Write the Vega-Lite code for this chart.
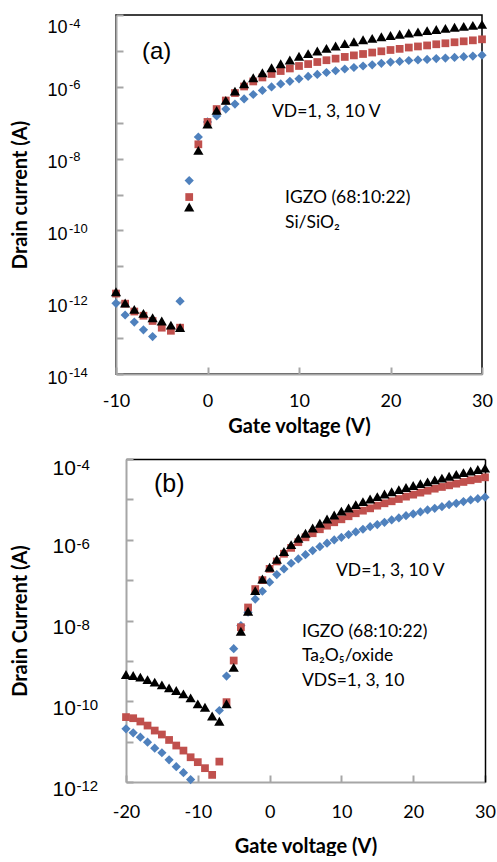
{
  "$schema": "https://vega.github.io/schema/vega-lite/v6.json",
  "background": "white",
  "padding": {"left": 9, "top": 13, "right": 0, "bottom": 0},
  "columns": 1,
  "spacing": 20,
  "config": {
    "view": {"stroke": "#000000", "strokeWidth": 1.5},
    "font": "Lato",
    "axis": {"grid": false, "labelColor": "#000", "titleColor": "#000", "domainColor": "#A6A6A6", "domainWidth": 2, "tickColor": "#A6A6A6", "tickWidth": 2, "labelOverlap": false, "labelFlush": false}
  },
  "datasets": {
    "a": [
      {"v": -10, "s1": 9.3e-13, "s2": 1.74e-12, "s3": 1.95e-12},
      {"v": -9, "s1": 4.4e-13, "s2": 9.1e-13, "s3": 9.5e-13},
      {"v": -8, "s1": 2.8e-13, "s2": 5.5e-13, "s3": 6.3e-13},
      {"v": -7, "s1": 1.7e-13, "s2": 4.2e-13, "s3": 4.9e-13},
      {"v": -6, "s1": 1.1e-13, "s2": 3.0e-13, "s3": 3.7e-13},
      {"v": -5, "s1": null, "s2": 1.95e-13, "s3": 3.0e-13},
      {"v": -4, "s1": null, "s2": 1.6e-13, "s3": 2.3e-13},
      {"v": -3, "s1": 1.07e-12, "s2": 1.95e-13, "s3": 1.95e-13},
      {"v": -2, "s1": 2.45e-9, "s2": 8.5e-10, "s3": 4.5e-10},
      {"v": -1, "s1": 4.0e-8, "s2": 2.5e-8, "s3": 1.7e-8},
      {"v": 0, "s1": 1.05e-7, "s2": 1.05e-7, "s3": 9.1e-8},
      {"v": 1, "s1": 1.54e-7, "s2": 2.4e-7, "s3": 2.2e-7},
      {"v": 2, "s1": 2.4e-7, "s2": 4.15e-7, "s3": 4.2e-7},
      {"v": 3, "s1": 3.3e-7, "s2": 6.7e-7, "s3": 7.6e-7},
      {"v": 4, "s1": 4.6e-7, "s2": 1.02e-6, "s3": 1.22e-6},
      {"v": 5, "s1": 6.1e-7, "s2": 1.41e-6, "s3": 1.79e-6},
      {"v": 6, "s1": 7.9e-7, "s2": 1.82e-6, "s3": 2.47e-6},
      {"v": 7, "s1": 9.9e-7, "s2": 2.28e-6, "s3": 3.4e-6},
      {"v": 8, "s1": 1.2e-6, "s2": 2.75e-6, "s3": 4.4e-6},
      {"v": 9, "s1": 1.42e-6, "s2": 3.24e-6, "s3": 5.6e-6},
      {"v": 10, "s1": 1.67e-6, "s2": 3.8e-6, "s3": 7.1e-6},
      {"v": 11, "s1": 1.94e-6, "s2": 4.3e-6, "s3": 8.4e-6},
      {"v": 12, "s1": 2.21e-6, "s2": 4.9e-6, "s3": 9.9e-6},
      {"v": 13, "s1": 2.5e-6, "s2": 5.5e-6, "s3": 1.18e-5},
      {"v": 14, "s1": 2.8e-6, "s2": 6.1e-6, "s3": 1.37e-5},
      {"v": 15, "s1": 3.13e-6, "s2": 6.8e-6, "s3": 1.59e-5},
      {"v": 16, "s1": 3.45e-6, "s2": 7.5e-6, "s3": 1.8e-5},
      {"v": 17, "s1": 3.8e-6, "s2": 8.2e-6, "s3": 2.05e-5},
      {"v": 18, "s1": 4.1e-6, "s2": 9.0e-6, "s3": 2.24e-5},
      {"v": 19, "s1": 4.5e-6, "s2": 9.75e-6, "s3": 2.47e-5},
      {"v": 20, "s1": 4.9e-6, "s2": 1.06e-5, "s3": 2.69e-5},
      {"v": 21, "s1": 5.1e-6, "s2": 1.14e-5, "s3": 2.92e-5},
      {"v": 22, "s1": 5.4e-6, "s2": 1.24e-5, "s3": 3.15e-5},
      {"v": 23, "s1": 5.6e-6, "s2": 1.33e-5, "s3": 3.4e-5},
      {"v": 24, "s1": 5.8e-6, "s2": 1.42e-5, "s3": 3.67e-5},
      {"v": 25, "s1": 6.1e-6, "s2": 1.53e-5, "s3": 3.94e-5},
      {"v": 26, "s1": 6.3e-6, "s2": 1.63e-5, "s3": 4.23e-5},
      {"v": 27, "s1": 6.6e-6, "s2": 1.74e-5, "s3": 4.54e-5},
      {"v": 28, "s1": 6.9e-6, "s2": 1.85e-5, "s3": 4.84e-5},
      {"v": 29, "s1": 7.2e-6, "s2": 1.97e-5, "s3": 5.16e-5},
      {"v": 30, "s1": 7.6e-6, "s2": 2.1e-5, "s3": 5.5e-5}
    ],
    "b": [
      {"v": -20, "s1": 2.08e-11, "s2": 4.05e-11, "s3": 4.6e-10},
      {"v": -19, "s1": 1.65e-11, "s2": 3.8e-11, "s3": 4.35e-10},
      {"v": -18, "s1": 1.29e-11, "s2": 3.15e-11, "s3": 3.95e-10},
      {"v": -17, "s1": 9.7e-12, "s2": 2.5e-11, "s3": 3.44e-10},
      {"v": -16, "s1": 6.9e-12, "s2": 1.88e-11, "s3": 2.97e-10},
      {"v": -15, "s1": 5.3e-12, "s2": 1.5e-11, "s3": 2.55e-10},
      {"v": -14, "s1": 3.55e-12, "s2": 1.1e-11, "s3": 2.15e-10},
      {"v": -13, "s1": 2.4e-12, "s2": 8.0e-12, "s3": 1.84e-10},
      {"v": -12, "s1": 1.7e-12, "s2": 6.0e-12, "s3": 1.52e-10},
      {"v": -11, "s1": 1.15e-12, "s2": 4.1e-12, "s3": 1.21e-10},
      {"v": -10, "s1": null, "s2": 3.1e-12, "s3": 8.6e-11},
      {"v": -9, "s1": null, "s2": 2.2e-12, "s3": 7.1e-11},
      {"v": -8, "s1": null, "s2": 1.5e-12, "s3": 4.3e-11},
      {"v": -7, "s1": 5.9e-11, "s2": 3.2e-12, "s3": 3.2e-11},
      {"v": -6, "s1": 4.2e-10, "s2": 9.5e-11, "s3": 8.7e-11},
      {"v": -5, "s1": 2.0e-9, "s2": 1.02e-9, "s3": 6.9e-10},
      {"v": -4, "s1": 7.5e-9, "s2": 6.8e-9, "s3": 5.4e-9},
      {"v": -3, "s1": 1.6e-8, "s2": 2.1e-8, "s3": 1.7e-8},
      {"v": -2, "s1": 3.4e-8, "s2": 6.0e-8, "s3": 5.5e-8},
      {"v": -1, "s1": 5.3e-8, "s2": 1.0e-7, "s3": 1.07e-7},
      {"v": 0, "s1": 8.9e-8, "s2": 1.9e-7, "s3": 2.09e-7},
      {"v": 1, "s1": 1.37e-7, "s2": 2.9e-7, "s3": 3.3e-7},
      {"v": 2, "s1": 1.89e-7, "s2": 4.5e-7, "s3": 5.1e-7},
      {"v": 3, "s1": 2.62e-7, "s2": 6.3e-7, "s3": 7.6e-7},
      {"v": 4, "s1": 3.35e-7, "s2": 8.7e-7, "s3": 1.09e-6},
      {"v": 5, "s1": 4.28e-7, "s2": 1.15e-6, "s3": 1.45e-6},
      {"v": 6, "s1": 5.4e-7, "s2": 1.45e-6, "s3": 1.96e-6},
      {"v": 7, "s1": 6.75e-7, "s2": 1.82e-6, "s3": 2.56e-6},
      {"v": 8, "s1": 8.2e-7, "s2": 2.23e-6, "s3": 3.27e-6},
      {"v": 9, "s1": 9.9e-7, "s2": 2.71e-6, "s3": 4.1e-6},
      {"v": 10, "s1": 1.15e-6, "s2": 3.21e-6, "s3": 5.1e-6},
      {"v": 11, "s1": 1.34e-6, "s2": 3.82e-6, "s3": 6.1e-6},
      {"v": 12, "s1": 1.56e-6, "s2": 4.53e-6, "s3": 7.4e-6},
      {"v": 13, "s1": 1.82e-6, "s2": 5.25e-6, "s3": 8.8e-6},
      {"v": 14, "s1": 2.11e-6, "s2": 6.0e-6, "s3": 1.02e-5},
      {"v": 15, "s1": 2.37e-6, "s2": 6.98e-6, "s3": 1.17e-5},
      {"v": 16, "s1": 2.71e-6, "s2": 8.0e-6, "s3": 1.36e-5},
      {"v": 17, "s1": 3.09e-6, "s2": 8.97e-6, "s3": 1.55e-5},
      {"v": 18, "s1": 3.47e-6, "s2": 1.02e-5, "s3": 1.74e-5},
      {"v": 19, "s1": 3.95e-6, "s2": 1.17e-5, "s3": 1.97e-5},
      {"v": 20, "s1": 4.35e-6, "s2": 1.31e-5, "s3": 2.2e-5},
      {"v": 21, "s1": 4.88e-6, "s2": 1.47e-5, "s3": 2.45e-5},
      {"v": 22, "s1": 5.47e-6, "s2": 1.64e-5, "s3": 2.72e-5},
      {"v": 23, "s1": 6.0e-6, "s2": 1.84e-5, "s3": 3.03e-5},
      {"v": 24, "s1": 6.6e-6, "s2": 2.03e-5, "s3": 3.37e-5},
      {"v": 25, "s1": 7.4e-6, "s2": 2.23e-5, "s3": 3.75e-5},
      {"v": 26, "s1": 8.0e-6, "s2": 2.45e-5, "s3": 4.15e-5},
      {"v": 27, "s1": 8.8e-6, "s2": 2.7e-5, "s3": 4.6e-5},
      {"v": 28, "s1": 9.7e-6, "s2": 2.97e-5, "s3": 5.05e-5},
      {"v": 29, "s1": 1.04e-5, "s2": 3.2e-5, "s3": 5.5e-5},
      {"v": 30, "s1": 1.13e-5, "s2": 3.52e-5, "s3": 5.95e-5}
    ],
    "notes": [
      {"p": "a", "t": "VD=1, 3, 10 V", "v": 7.05, "I": 2.0e-7},
      {"p": "a", "t": "IGZO (68:10:22)", "v": 8.47, "I": 7.9e-10},
      {"p": "a", "t": "Si/SiO₂", "v": 8.47, "I": 1.62e-10},
      {"p": "b", "t": "VD=1, 3, 10 V", "v": 9.25, "I": 1.7e-7},
      {"p": "b", "t": "IGZO (68:10:22)", "v": 4.51, "I": 5.2e-9},
      {"p": "b", "t": "Ta₂O₅/oxide", "v": 4.51, "I": 1.32e-9},
      {"p": "b", "t": "VDS=1, 3, 10", "v": 4.51, "I": 3.16e-10}
    ],
    "tags": [
      {"p": "a", "t": "(a)", "v": -7.16, "I": 9.3e-6},
      {"p": "b", "t": "(b)", "v": -16.1, "I": 2.4e-5}
    ]
  },
  "concat": [
    {
      "width": 366,
      "height": 359,
      "resolve": {"axis": {"y": "independent"}},
      "layer": [
        {
          "data": {"name": "a"},
          "transform": [
            {"fold": ["s1", "s2", "s3"], "as": ["series", "I"]},
            {"filter": "isValid(datum.I)"}
          ],
          "mark": {"type": "point", "filled": true, "opacity": 1, "strokeWidth": 0},
          "encoding": {
            "x": {"field": "v", "type": "quantitative", "scale": {"domain": [-10, 30], "nice": false, "zero": false},
              "axis": {"values": [-10, 0, 10, 20, 30], "labelExpr": "datum.value < 0 ? '-' + (-datum.value) : '' + datum.value", "title": "Gate voltage (V)", "tickSize": -7, "labelFont": "Lato", "labelFontSize": 18, "labelPadding": 25, "labelBaseline": "top", "titleFont": "Lato", "titleFontSize": 20, "titleFontWeight": "bold", "titlePadding": 6}},
            "y": {"field": "I", "type": "quantitative", "scale": {"type": "log", "domain": [1e-14, 1e-4], "nice": false},
              "axis": {"orient": "left", "values": [1e-14, 1e-13, 1e-12, 1e-11, 1e-10, 1e-9, 1e-8, 1e-7, 1e-6, 1e-5, 1e-4],
                "labelExpr": "round(log(datum.value)/LN10) % 2 != 0 ? '' : '10'",
                "tickSize": -7, "labelAlign": "left", "labelBaseline": "middle", "labelPadding": 76, "labelFont": "Liberation Sans", "labelFontSize": 18,
                "labelOffset": {"condition": {"test": "datum.value >= 0.0001", "value": 12}, "value": 4},
                "title": "Drain current (A)", "titleFont": "Lato", "titleFontSize": 20, "titleFontWeight": "bold", "titlePadding": 17}},
            "color": {"field": "series", "type": "nominal", "scale": {"domain": ["s1", "s2", "s3"], "range": ["#4F81BD", "#C0504D", "#000000"]}, "legend": null},
            "shape": {"field": "series", "type": "nominal", "scale": {"domain": ["s1", "s2", "s3"], "range": ["diamond", "square", "triangle-up"]}, "legend": null},
            "size": {"field": "series", "type": "nominal", "scale": {"type": "ordinal", "domain": ["s1", "s2", "s3"], "range": [85, 60, 105]}, "legend": null},
            "order": {"field": "series", "sort": "ascending"}
          }
        },
        {
          "data": {"name": "notes"},
          "transform": [{"filter": "datum.p == 'a'"}],
          "mark": {"type": "text", "font": "Lato", "fontSize": 17.5, "align": "left", "baseline": "middle", "color": "#000"},
          "encoding": {
            "x": {"field": "v", "type": "quantitative"},
            "y": {"field": "I", "type": "quantitative",
              "axis": {"orient": "left", "values": [1e-14, 1e-12, 1e-10, 1e-8, 1e-6, 1e-4],
                "labelExpr": "'' + round(log(datum.value)/LN10)",
                "domain": false, "tickSize": -7, "tickOpacity": 0, "labelAlign": "left", "labelBaseline": "middle", "labelPadding": 54.5, "labelFont": "Liberation Sans", "labelFontSize": 13,
                "labelOffset": {"condition": {"test": "datum.value >= 0.0001", "value": 8}, "value": -2},
                "title": null}},
            "text": {"field": "t"}
          }
        },
        {
          "data": {"name": "tags"},
          "transform": [{"filter": "datum.p == 'a'"}],
          "mark": {"type": "text", "font": "Liberation Sans", "fontSize": 24, "align": "left", "baseline": "middle", "color": "#000"},
          "encoding": {
            "x": {"field": "v", "type": "quantitative"},
            "y": {"field": "I", "type": "quantitative", "axis": null},
            "text": {"field": "t"}
          }
        }
      ]
    },
    {
      "width": 369,
      "height": 323,
      "view": {"stroke": null},
      "resolve": {"axis": {"x": "independent", "y": "independent"}},
      "layer": [
        {
          "data": {"name": "b"},
          "transform": [
            {"fold": ["s1", "s2", "s3"], "as": ["series", "I"]},
            {"filter": "isValid(datum.I)"}
          ],
          "mark": {"type": "point", "filled": true, "opacity": 1, "strokeWidth": 0},
          "encoding": {
            "x": {"field": "v", "type": "quantitative", "scale": {"domain": [-20, 30], "range": [10, 369], "nice": false, "zero": false},
              "axis": {"orient": "bottom", "values": [-20, -10, 0, 10, 20, 30], "labelExpr": "datum.value < 0 ? '-' + (-datum.value) : '' + datum.value", "title": "Gate voltage (V)", "tickSize": -7, "labelFont": "Lato", "labelFontSize": 18, "labelPadding": 28, "labelBaseline": "top", "titleFont": "Lato", "titleFontSize": 20, "titleFontWeight": "bold", "titlePadding": 15}},
            "y": {"field": "I", "type": "quantitative", "scale": {"type": "log", "domain": [1e-12, 1e-4], "nice": false},
              "axis": {"orient": "left", "offset": -10, "values": [1e-12, 1e-11, 1e-10, 1e-9, 1e-8, 1e-7, 1e-6, 1e-5, 1e-4],
                "labelExpr": "round(log(datum.value)/LN10) % 2 != 0 ? '' : '10'",
                "tickSize": -7, "labelAlign": "left", "labelBaseline": "middle", "labelPadding": 81, "labelFont": "Liberation Sans", "labelFontSize": 21,
                "labelOffset": {"condition": {"test": "datum.value >= 0.0001", "value": 9}, "value": 7},
                "title": "Drain Current (A)", "titleFont": "Lato", "titleFontSize": 20, "titleFontWeight": "bold", "titlePadding": 22}},
            "color": {"field": "series", "type": "nominal", "scale": {"domain": ["s1", "s2", "s3"], "range": ["#4F81BD", "#C0504D", "#000000"]}, "legend": null},
            "shape": {"field": "series", "type": "nominal", "scale": {"domain": ["s1", "s2", "s3"], "range": ["diamond", "square", "triangle-up"]}, "legend": null},
            "size": {"field": "series", "type": "nominal", "scale": {"type": "ordinal", "domain": ["s1", "s2", "s3"], "range": [72, 52, 90]}, "legend": null},
            "order": {"field": "series", "sort": "ascending"}
          }
        },
        {
          "data": {"name": "notes"},
          "transform": [{"filter": "datum.p == 'b'"}],
          "mark": {"type": "text", "font": "Lato", "fontSize": 17.5, "align": "left", "baseline": "middle", "color": "#000"},
          "encoding": {
            "x": {"field": "v", "type": "quantitative",
              "axis": {"orient": "top", "domainColor": "#000000", "domainWidth": 1.5, "ticks": false, "labels": false, "title": null}},
            "y": {"field": "I", "type": "quantitative",
              "axis": {"orient": "left", "offset": -10, "values": [1e-12, 1e-10, 1e-8, 1e-6, 1e-4],
                "labelExpr": "'' + round(log(datum.value)/LN10)",
                "domain": false, "tickSize": -7, "tickOpacity": 0, "labelAlign": "left", "labelBaseline": "middle", "labelPadding": 57, "labelFont": "Liberation Sans", "labelFontSize": 15,
                "labelOffset": {"condition": {"test": "datum.value >= 0.0001", "value": 5.5}, "value": 3.5},
                "title": null}},
            "text": {"field": "t"}
          }
        },
        {
          "data": {"name": "tags"},
          "transform": [{"filter": "datum.p == 'b'"}],
          "mark": {"type": "text", "font": "Liberation Sans", "fontSize": 25, "align": "left", "baseline": "middle", "color": "#000"},
          "encoding": {
            "x": {"field": "v", "type": "quantitative", "axis": null},
            "y": {"field": "I", "type": "quantitative",
              "axis": {"orient": "right", "domainColor": "#000000", "domainWidth": 1.5, "ticks": false, "labels": false, "title": null}},
            "text": {"field": "t"}
          }
        }
      ]
    }
  ]
}
